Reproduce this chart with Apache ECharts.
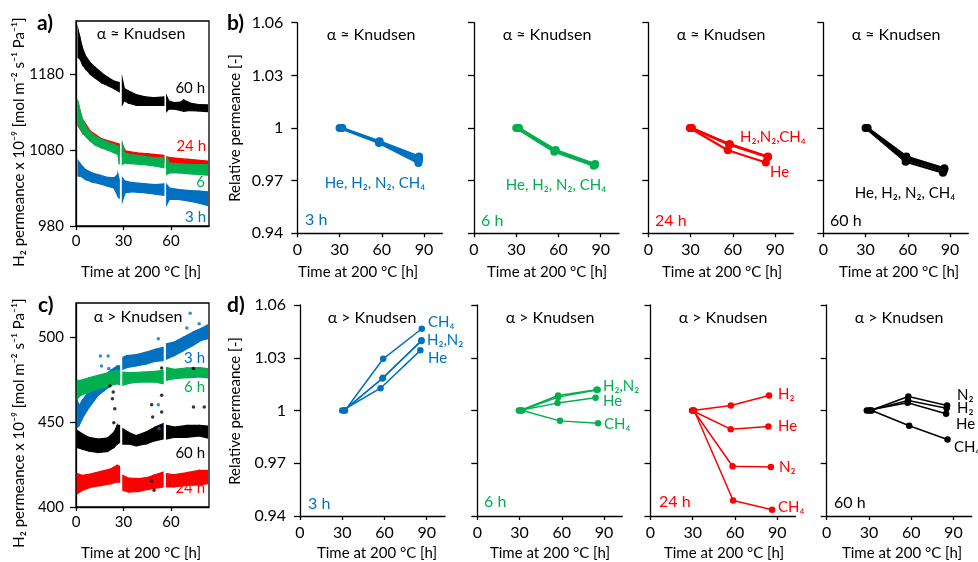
<!DOCTYPE html>
<html>
<head>
<meta charset="utf-8">
<script src="https://cdn.jsdelivr.net/npm/echarts/dist/echarts.min.js"></script>
<style>
  html, body { margin: 0; padding: 0; background: #fff; }
  #chart { width: 978px; height: 562px; }
</style>
</head>
<body>
<div id="chart"></div>
<script>
var BLUE = '#0070C0', GREEN = '#00B050', RED = '#FF0000', BLACK = '#000000';
var FONT = 'Lato, "Noto Sans", sans-serif';

var gases = ['He', 'H₂', 'N₂', 'CH₄'];
var relTicks = [0.94, 0.97, 1, 1.03, 1.06];
var timeTicksAC = [0, 30, 60];
var timeTicksBD = [0, 30, 60, 90];
var ticksA = [980, 1080, 1180];
var ticksC = [400, 450, 500];

// panel a: H2 permeance bands, [time, low, high], one list per run segment
var bandA60 = [
  [[1.3,1202,1239],[2.5,1200,1228],[4,1193,1215],[6,1187,1204],[9,1180,1195],[12,1175,1189],[16,1169,1182],[20,1165,1176],[24,1161,1171],[27.3,1157,1169]],
  [[29.3,1140,1173],[30.5,1145,1161],[33,1142,1158],[38,1139,1153],[44,1139,1150],[50,1139,1149],[55.5,1139,1150]],
  [[57.3,1131,1151],[58.5,1134,1145],[62,1134,1142.5],[66,1132,1143],[68,1131,1146],[72,1132,1142],[77,1131.5,1140],[83,1130.7,1139.5]]
];
var bandA24 = [
  [[1.3,1112,1142],[4,1103,1121],[9,1092,1105],[16,1084,1095],[24,1078,1090],[27.3,1074,1088]],
  [[29.3,1070,1088],[31,1066,1079],[38,1066,1076.5],[46,1065,1075],[55.5,1063.5,1073]],
  [[57.3,1057,1071],[60,1057.5,1070],[70,1057.5,1068],[83,1056,1065.5]]
];
var bandA6 = [
  [[1.3,1114,1145],[2.5,1109.5,1131.5],[4,1103,1120.5],[6,1098.5,1111.7],[9,1092,1103.8],[12,1086.6,1098.5],[16,1083,1094],[20,1080,1090.6],[24,1076.5,1087.5],[26.5,1074,1085],[27.3,1061,1083]],
  [[29.3,1061,1087.5],[30.5,1063,1076.5],[35,1062,1074],[42,1061,1072],[50,1059,1070],[55.5,1056.6,1070]],
  [[57.3,1048,1070],[59,1050,1063],[65,1050,1062],[72,1048.7,1061],[83,1047,1061]]
];
var bandA3 = [
  [[1.3,1045.6,1066],[3,1045.6,1061],[6,1041,1054.5],[10,1038,1050],[15,1035.5,1047],[20,1032.4,1044],[24,1030,1043.4],[26.5,1019,1048],[27.3,1017,1041]],
  [[29.3,1012.6,1043.4],[31,1023.6,1039],[36,1025,1037],[44,1023.6,1035.5],[50,1022,1034.6],[55.5,1020.5,1035.5]],
  [[57.3,1008,1034.6],[59,1015,1030],[65,1015,1028],[72,1012.6,1026.7],[78,1010,1026],[83,1007,1025]]
];

// panel c
var bandC3 = [
  [[0.8,447,462.7],[2,448,459.8],[4,452,462.7],[7,456.9,466.7],[10,460.8,471.6],[14,465.7,475.5],[18,468.6,477.5],[22,471.6,480.4],[26,474.5,483],[27.5,475,483]],
  [[29.6,481,488],[32,482,489],[38,483,489.6],[44,484,491],[50,485.7,492.7],[55,486,494]],
  [[57.2,487,496],[62,489,497],[68,492,500],[74,495,503],[79,498,505],[83,499,507]]
];
var bandC6 = [
  [[0.8,463.7,474.5],[3,465.7,474.5],[8,467.6,476],[14,469.6,477.5],[20,471,479],[26,472.5,480.4],[27.5,472,480.4]],
  [[29.6,471.6,479.4],[35,473,479],[42,473.5,479.4],[50,473.5,479.8],[55,472.5,480.4]],
  [[57.2,474.5,482],[62,475.5,481],[70,476,481.8],[78,476.5,482],[83,476,481.4]]
];
var bandC60 = [
  [[0.8,435,445],[4,434,443],[8,433,441],[14,432,440],[20,432.7,440.6],[24,435,444],[26,437,448],[27.5,438,448]],
  [[29.6,437,446],[33,437,444],[38,436,442],[44,437,444],[50,439,447],[55,440,449]],
  [[57.2,440,448],[62,441,447],[70,441,448],[78,441.8,448],[83,440.6,447.6]]
];
var bandC24 = [
  [[0.8,407.8,419.6],[4,409.8,418.6],[10,411.8,419.6],[16,412.7,421],[22,413.7,422.5],[26,414.7,424.5],[27.5,414.5,424]],
  [[29.6,409.8,418.6],[33,408.8,417],[40,409.2,416.7],[46,410.4,417.6],[50,411,419],[55,411.8,420.6]],
  [[57.2,411.8,419.6],[62,411.8,419],[70,412.7,420.2],[78,413,421.6],[83,413.7,421.6]]
];
var dotsC3 = [[72.1,514],[15.4,488.8],[20.3,488.8],[16.1,482.9],[20.7,481.4],[52,499],[52,491.6],[52,460.2],[70,505.3],[77.8,507.8],[52.5,446]];
var dotsC60 = [[21.4,471.2],[23.5,467.6],[23,463.7],[24.5,457.8],[23.9,449.6],[47.8,460.2],[48.4,452.9],[54.1,481.8],[54.1,465.7],[54.1,455.9],[74.2,458.8],[81,458.8],[74.2,481.4],[47.8,415.3],[49.3,409.8]];

// relative permeance, order He, H2, N2, CH4
var relB3 = [
  [[30,1],[58,0.9915],[86,0.9800]],
  [[31,1],[58,0.9920],[86.3,0.9812]],
  [[31.5,1],[58.3,0.9922],[86.5,0.9825]],
  [[32,1],[58.5,0.9925],[86.5,0.9838]]
];
var relB6 = [
  [[30,1],[57,0.9865],[85,0.9785]],
  [[31,1],[57.5,0.9870],[85.5,0.9790]],
  [[31.5,1],[58,0.9872],[86,0.9790]],
  [[32,1],[58,0.9875],[86,0.9795]]
];
var relB24 = [
  [[29.5,1],[56.5,0.9873],[83.5,0.9803]],
  [[30,1],[57.5,0.9905],[84.5,0.9835]],
  [[30.5,1],[57.5,0.9907],[85,0.9835]],
  [[31,1],[58,0.9908],[85,0.9838]]
];
var relB60 = [
  [[30,1],[58.5,0.9808],[85,0.9745]],
  [[30.5,1],[58.5,0.9820],[85.5,0.9755]],
  [[31,1],[59,0.9830],[86,0.9765]],
  [[31.5,1],[59,0.9838],[86,0.9770]]
];
var relD3 = [
  [[30,1],[57.2,1.0127],[85.5,1.0342]],
  [[31,1],[58.5,1.0182],[86.3,1.0395]],
  [[31.5,1],[59,1.0186],[86.3,1.0400]],
  [[32,1],[59.1,1.0294],[86.5,1.0465]]
];
var relD6 = [
  [[29.5,1],[57,1.0042],[84,1.0072]],
  [[30.5,1],[57.4,1.0085],[84.7,1.0118]],
  [[31,1],[57.4,1.0076],[85.5,1.0118]],
  [[32,1],[58.7,0.9941],[85.8,0.9928]]
];
var relD24 = [
  [[29.5,1],[57,0.9894],[83.7,0.9909]],
  [[30,1],[57.1,1.0028],[84.2,1.0085]],
  [[30.5,1],[58.3,0.9683],[85.5,0.9679]],
  [[31,1],[58.7,0.9488],[86.4,0.9435]]
];
var relD60 = [
  [[28.5,1],[57.5,1.0044],[84.8,0.9981]],
  [[30,1],[57.8,1.0057],[85.2,1.0013]],
  [[31,1],[58,1.0080],[85.5,1.0028]],
  [[32,1],[58.6,0.9913],[85.8,0.9835]]
];

var chart = echarts.init(document.getElementById('chart'), null, { renderer: 'canvas' });

var axisLineStyle = { color: '#000', width: 1.3 };

// grid layout: [left, top, width, height]
var boxes = [
  [76, 21, 133, 205],      // a
  [76, 303, 133, 204],     // c
  [297.3, 22.7, 145, 210.6],
  [474, 22.7, 145, 210.6],
  [648.3, 22.7, 145, 210.6],
  [823.3, 22.7, 145, 210.6],
  [300, 305, 145, 211],
  [477.3, 305, 145, 211],
  [650.5, 305, 145, 211],
  [826.7, 305, 145, 211]
];

var grids = [], xAxes = [], yAxes = [], series = [];

boxes.forEach(function (b, i) {
  var framed = i < 2;
  var tickFont = framed ? 15 : 16;
  grids.push({
    left: b[0], top: b[1], width: b[2], height: b[3],
    show: framed, borderColor: '#000', borderWidth: framed ? 1.3 : 0,
    backgroundColor: 'transparent', containLabel: false, outerBoundsMode: 'none'
  });
  var xt = framed ? timeTicksAC : timeTicksBD;
  xAxes.push({
    gridIndex: i, type: 'value', min: 0, max: framed ? 84 : 103,
    axisLine: { show: true, onZero: false, lineStyle: axisLineStyle },
    axisTick: { show: true, length: 4, customValues: xt, lineStyle: axisLineStyle },
    axisLabel: { customValues: xt, margin: framed ? 8 : 9, color: '#000', fontFamily: FONT, fontSize: tickFont },
    splitLine: { show: false }
  });
  var yt, ymin, ymax;
  if (i === 0) { yt = ticksA; ymin = 980; ymax = 1250; }
  else if (i === 1) { yt = ticksC; ymin = 400; ymax = 520; }
  else { yt = relTicks; ymin = 0.94; ymax = 1.06; }
  var showLab = (i < 3 || i === 6);
  yAxes.push({
    gridIndex: i, type: 'value', min: ymin, max: ymax,
    axisLine: { show: true, onZero: false, lineStyle: axisLineStyle },
    axisTick: { show: true, length: 6, customValues: yt, lineStyle: axisLineStyle },
    axisLabel: {
      show: showLab, customValues: yt, margin: framed ? 12 : 14,
      color: '#000', fontFamily: FONT, fontSize: tickFont,
      formatter: function (v) { return String(v); }
    },
    splitLine: { show: false }
  });
});

function bandSeries(axis, segs, color) {
  return segs.map(function (seg) {
    return {
      type: 'custom', xAxisIndex: axis, yAxisIndex: axis, clip: true, silent: true,
      data: seg,
      renderItem: function (params, api) {
        var k = params.dataIndex;
        if (k >= seg.length - 1) return null;
        var p = seg[k], q = seg[k + 1];
        return {
          type: 'polygon',
          shape: { points: [api.coord([p[0], p[2]]), api.coord([q[0], q[2]]), api.coord([q[0], q[1]]), api.coord([p[0], p[1]])] },
          style: { fill: color, stroke: color, lineWidth: 1.2 }
        };
      }
    };
  });
}

function dotSeries(axis, pts, color) {
  return { type: 'scatter', xAxisIndex: axis, yAxisIndex: axis, data: pts, symbolSize: 3.5, itemStyle: { color: color }, silent: true };
}

function relSeries(axis, rows, color, width, size) {
  return rows.map(function (row, k) {
    return {
      type: 'line', name: gases[k], xAxisIndex: axis, yAxisIndex: axis, data: row,
      symbol: 'circle', symbolSize: size, showSymbol: true, silent: true,
      lineStyle: { color: color, width: width }, itemStyle: { color: color }
    };
  });
}

series = series
  .concat(bandSeries(0, bandA60, BLACK), bandSeries(0, bandA24, RED), bandSeries(0, bandA6, GREEN), bandSeries(0, bandA3, BLUE))
  .concat(bandSeries(1, bandC3, BLUE), bandSeries(1, bandC6, GREEN), bandSeries(1, bandC60, BLACK), bandSeries(1, bandC24, RED))
  .concat([dotSeries(1, dotsC3, BLUE), dotSeries(1, dotsC60, BLACK)])
  .concat(relSeries(2, relB3, BLUE, 2.2, 8), relSeries(3, relB6, GREEN, 2.2, 8), relSeries(4, relB24, RED, 2.2, 8), relSeries(5, relB60, BLACK, 2.2, 8))
  .concat(relSeries(6, relD3, BLUE, 1.5, 6.5), relSeries(7, relD6, GREEN, 1.5, 6.5), relSeries(8, relD24, RED, 1.5, 6.5), relSeries(9, relD60, BLACK, 1.5, 6.5));

// text annotations: [x, y, text, color, align, size, weight]
var notes = [
  [37, 23, 'a)', BLACK, 'left', 21, 'bold'],
  [38, 305, 'c)', BLACK, 'left', 21, 'bold'],
  [227, 23, 'b)', BLACK, 'left', 21, 'bold'],
  [227, 305, 'd)', BLACK, 'left', 21, 'bold'],
  [141, 34, 'α ≈ Knudsen', BLACK, 'center', 16],
  [138, 317, 'α > Knudsen', BLACK, 'center', 16],
  [205, 88, '60 h', BLACK, 'right'],
  [206, 146, '24 h', RED, 'right'],
  [205, 182, '6', GREEN, 'right'],
  [206, 217, '3 h', BLUE, 'right'],
  [205, 358, '3 h', BLUE, 'right'],
  [205, 387, '6 h', GREEN, 'right'],
  [205, 453, '60 h', BLACK, 'right'],
  [205, 488, '24 h', RED, 'right'],
  [371, 35, 'α ≈ Knudsen', BLACK, 'center', 16],
  [547, 35, 'α ≈ Knudsen', BLACK, 'center', 16],
  [721, 35, 'α ≈ Knudsen', BLACK, 'center', 16],
  [896, 35, 'α ≈ Knudsen', BLACK, 'center', 16],
  [372, 318, 'α > Knudsen', BLACK, 'center', 16],
  [550, 318, 'α > Knudsen', BLACK, 'center', 16],
  [723, 318, 'α > Knudsen', BLACK, 'center', 16],
  [899, 318, 'α > Knudsen', BLACK, 'center', 16],
  [305, 220, '3 h', BLUE, 'left', 16],
  [481, 221, '6 h', GREEN, 'left', 16],
  [655, 221, '24 h', RED, 'left', 16],
  [830, 221, '60 h', BLACK, 'left', 16],
  [308, 504, '3 h', BLUE, 'left', 16],
  [484, 502, '6 h', GREEN, 'left', 16],
  [659, 502, '24 h', RED, 'left', 16],
  [834, 503, '60 h', BLACK, 'left', 16],
  [375, 183, 'He, H₂, N₂, CH₄', BLUE, 'center'],
  [556, 185, 'He, H₂, N₂, CH₄', GREEN, 'center'],
  [740, 137, 'H₂,N₂,CH₄', RED, 'left'],
  [770, 172, 'He', RED, 'left'],
  [905, 193, 'He, H₂, N₂, CH₄', BLACK, 'center'],
  [428, 322, 'CH₄', BLUE, 'left'],
  [427, 340, 'H₂,N₂', BLUE, 'left'],
  [428, 358, 'He', BLUE, 'left'],
  [603, 386, 'H₂,N₂', GREEN, 'left'],
  [603, 401, 'He', GREEN, 'left'],
  [604, 424, 'CH₄', GREEN, 'left'],
  [778, 394, 'H₂', RED, 'left'],
  [778, 426, 'He', RED, 'left'],
  [779, 467, 'N₂', RED, 'left'],
  [778, 507, 'CH₄', RED, 'left'],
  [957, 395, 'N₂', BLACK, 'left'],
  [957, 408, 'H₂', BLACK, 'left'],
  [956, 424, 'He', BLACK, 'left'],
  [954, 447, 'CH₄', BLACK, 'left'],
  // x axis titles
  [141, 272, 'Time at 200 °C [h]', BLACK, 'center'],
  [141, 553, 'Time at 200 °C [h]', BLACK, 'center'],
  [358, 272, 'Time at 200 °C [h]', BLACK, 'center'],
  [547, 272, 'Time at 200 °C [h]', BLACK, 'center'],
  [722, 272, 'Time at 200 °C [h]', BLACK, 'center'],
  [899, 272, 'Time at 200 °C [h]', BLACK, 'center'],
  [377, 553, 'Time at 200 °C [h]', BLACK, 'center'],
  [550, 553, 'Time at 200 °C [h]', BLACK, 'center'],
  [724, 553, 'Time at 200 °C [h]', BLACK, 'center'],
  [902, 553, 'Time at 200 °C [h]', BLACK, 'center']
];

var graphics = notes.map(function (n) {
  return {
    type: 'text', x: n[0], y: n[1], silent: true,
    style: {
      text: n[2], fill: n[3], textAlign: n[4], align: n[4],
      textVerticalAlign: 'middle', verticalAlign: 'middle',
      font: (n[6] || 'normal') + ' ' + (n[5] || 15) + 'px ' + FONT
    }
  };
});

// rotated y axis titles
var yTitles = [
  [19, 142, 'H₂ permeance x 10⁻⁹ [mol m⁻² s⁻¹ Pa⁻¹]'],
  [19, 423, 'H₂ permeance x 10⁻⁹ [mol m⁻² s⁻¹ Pa⁻¹]'],
  [235, 128, 'Relative permeance [-]'],
  [235, 411, 'Relative permeance [-]']
];
yTitles.forEach(function (t) {
  graphics.push({
    type: 'text', x: t[0], y: t[1], rotation: Math.PI / 2, silent: true,
    style: {
      text: t[2], fill: BLACK, textAlign: 'center', align: 'center',
      textVerticalAlign: 'middle', verticalAlign: 'middle',
      font: '15px ' + FONT
    }
  });
});

var option = {
  backgroundColor: '#fff',
  animation: false,
  grid: grids,
  xAxis: xAxes,
  yAxis: yAxes,
  series: series,
  graphic: graphics
};

chart.setOption(option, true);
</script>
</body>
</html>
